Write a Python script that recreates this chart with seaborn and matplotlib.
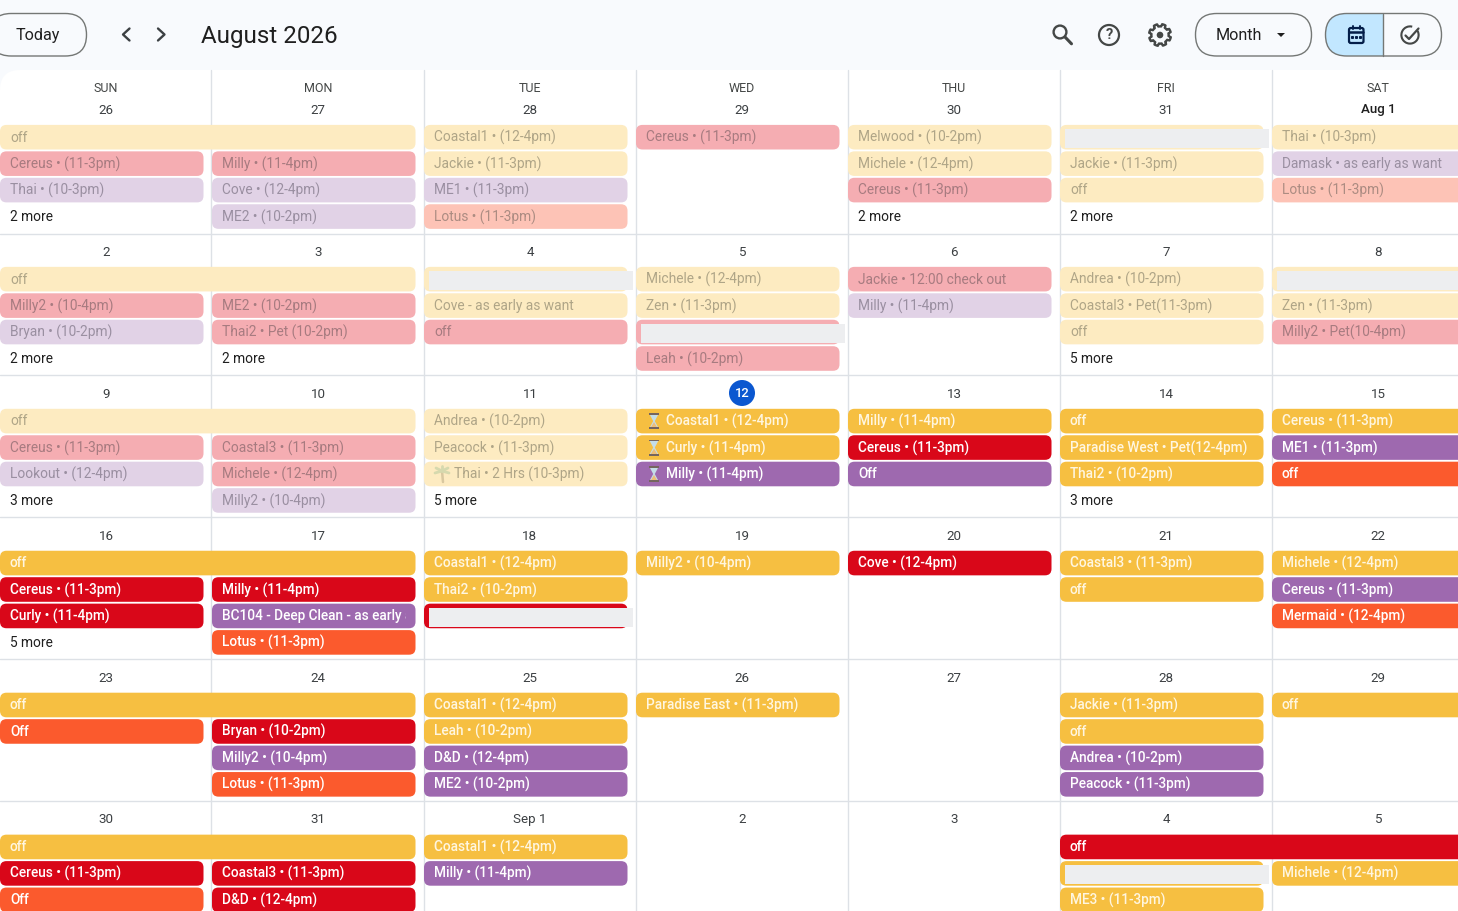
import numpy as np
import pandas as pd
import matplotlib
matplotlib.use("Agg")
import matplotlib.pyplot as plt
from matplotlib.patches import FancyBboxPatch, Rectangle, Circle, Polygon, Arc
import seaborn as sns

# ---------- data ----------
weekday_names = ["SUN", "MON", "TUE", "WED", "THU", "FRI", "SAT"]
day_labels = [
    ["26", "27", "28", "29", "30", "31", "Aug 1"],
    ["2", "3", "4", "5", "6", "7", "8"],
    ["9", "10", "11", "12", "13", "14", "15"],
    ["16", "17", "18", "19", "20", "21", "22"],
    ["23", "24", "25", "26", "27", "28", "29"],
    ["30", "31", "Sep 1", "2", "3", "4", "5"],
]
title_text = "August 2026"
today_cell = (2, 3)

# per week: day column, lane, calendar key, label. Two-day events are listed in wide_events.
w0_day = [0,0,0, 1,1,1, 2,2,2,2, 3, 4,4,4, 5,5,5, 6,6,6]
w0_lane = [0,1,2, 1,2,3, 0,1,2,3, 0, 0,1,2, 0,1,2, 0,1,2]
w0_cal = list("yrp" "rpp" "yypo" "r" "yyr" "yyy" "ypo")
w0_text = ["off", "Cereus • (11-3pm)", "Thai • (10-3pm)",
           "Milly • (11-4pm)", "Cove • (12-4pm)", "ME2 • (10-2pm)",
           "Coastal1 • (12-4pm)", "Jackie • (11-3pm)", "ME1 • (11-3pm)", "Lotus • (11-3pm)",
           "Cereus • (11-3pm)",
           "Melwood • (10-2pm)", "Michele • (12-4pm)", "Cereus • (11-3pm)",
           "", "Jackie • (11-3pm)", "off",
           "Thai • (10-3pm)", "Damask • as early as want", "Lotus • (11-3pm)"]

w1_day = [0,0,0, 1,1, 2,2,2, 3,3,3,3, 4,4, 5,5,5, 6,6,6]
w1_lane = [0,1,2, 1,2, 0,1,2, 0,1,2,3, 0,1, 0,1,2, 0,1,2]
w1_cal = list("yrp" "rr" "yyr" "yyrr" "rp" "yyy" "yyr")
w1_text = ["off", "Milly2 • (10-4pm)", "Bryan • (10-2pm)",
           "ME2 • (10-2pm)", "Thai2 • Pet (10-2pm)",
           "", "Cove - as early as want", "off",
           "Michele • (12-4pm)", "Zen • (11-3pm)", "", "Leah • (10-2pm)",
           "Jackie • 12:00 check out", "Milly • (11-4pm)",
           "Andrea • (10-2pm)", "Coastal3 • Pet(11-3pm)", "off",
           "", "Zen • (11-3pm)", "Milly2 • Pet(10-4pm)"]

w2_day = [0,0,0, 1,1,1, 2,2,2, 3,3,3, 4,4,4, 5,5,5, 6,6,6]
w2_lane = [0,1,2, 1,2,3, 0,1,2, 0,1,2, 0,1,2, 0,1,2, 0,1,2]
w2_cal = list("yrp" "rrp" "yyy" "yyp" "yrp" "yyy" "ypo")
w2_text = ["off", "Cereus • (11-3pm)", "Lookout • (12-4pm)",
           "Coastal3 • (11-3pm)", "Michele • (12-4pm)", "Milly2 • (10-4pm)",
           "Andrea • (10-2pm)", "Peacock • (11-3pm)", "Thai • 2 Hrs (10-3pm)",
           "Coastal1 • (12-4pm)", "Curly • (11-4pm)", "Milly • (11-4pm)",
           "Milly • (11-4pm)", "Cereus • (11-3pm)", "Off",
           "off", "Paradise West • Pet(12-4pm)", "Thai2 • (10-2pm)",
           "Cereus • (11-3pm)", "ME1 • (11-3pm)", "off"]

w3_day = [0,0,0, 1,1,1, 2,2,2, 3, 4, 5,5, 6,6,6]
w3_lane = [0,1,2, 1,2,3, 0,1,2, 0, 0, 0,1, 0,1,2]
w3_cal = list("yrr" "rpo" "yyr" "y" "r" "yy" "ypo")
w3_text = ["off", "Cereus • (11-3pm)", "Curly • (11-4pm)",
           "Milly • (11-4pm)", "BC104 - Deep Clean - as early as want", "Lotus • (11-3pm)",
           "Coastal1 • (12-4pm)", "Thai2 • (10-2pm)", "",
           "Milly2 • (10-4pm)", "Cove • (12-4pm)",
           "Coastal3 • (11-3pm)", "off",
           "Michele • (12-4pm)", "Cereus • (11-3pm)", "Mermaid • (12-4pm)"]

w4_day = [0,0, 1,1,1, 2,2,2,2, 3, 5,5,5,5, 6]
w4_lane = [0,1, 1,2,3, 0,1,2,3, 0, 0,1,2,3, 0]
w4_cal = list("yo" "rpo" "yypp" "y" "yypp" "y")
w4_text = ["off", "Off", "Bryan • (10-2pm)", "Milly2 • (10-4pm)", "Lotus • (11-3pm)",
           "Coastal1 • (12-4pm)", "Leah • (10-2pm)", "D&D • (12-4pm)", "ME2 • (10-2pm)",
           "Paradise East • (11-3pm)",
           "Jackie • (11-3pm)", "off", "Andrea • (10-2pm)", "Peacock • (11-3pm)", "off"]

w5_day = [0,0,0, 1,1, 2,2, 5,5,5, 6]
w5_lane = [0,1,2, 1,2, 0,1, 0,1,2, 1]
w5_cal = list("yro" "rr" "yp" "ryy" "y")
w5_text = ["off", "Cereus • (11-3pm)", "Off", "Coastal3 • (11-3pm)", "D&D • (12-4pm)",
           "Coastal1 • (12-4pm)", "Milly • (11-4pm)",
           "off", "", "ME3 • (11-3pm)", "Michele • (12-4pm)"]

wide_events = [(0, 0, 0), (1, 0, 0), (2, 0, 0), (3, 0, 0), (4, 0, 0), (5, 0, 0), (5, 5, 0)]  # week, day, lane

more_week = [0, 0, 0, 1, 1, 1, 2, 2, 2, 3]
more_day = [0, 4, 5, 0, 1, 5, 0, 2, 5, 0]
more_count = [2, 2, 2, 2, 2, 5, 3, 5, 3, 5]

weeks_day = [w0_day, w1_day, w2_day, w3_day, w4_day, w5_day]
weeks_lane = [w0_lane, w1_lane, w2_lane, w3_lane, w4_lane, w5_lane]
weeks_cal = [w0_cal, w1_cal, w2_cal, w3_cal, w4_cal, w5_cal]
weeks_text = [w0_text, w1_text, w2_text, w3_text, w4_text, w5_text]
frames = []
for i in range(6):
    frames.append(pd.DataFrame({"week": i, "day": weeks_day[i], "lane": weeks_lane[i],
                                "cal": weeks_cal[i], "text": weeks_text[i]}))
events = pd.concat(frames, ignore_index=True)

# ---------- styling ----------
full_bg = {"y": "#F6BF41", "r": "#D90719", "p": "#9E69AF", "o": "#FB5A2D"}
full_fg = {"y": "#FFF6E0", "r": "#FFFFFF", "p": "#FFFFFF", "o": "#FFFFFF"}
past_bg = {"y": "#FDEBC1", "r": "#F5ADB2", "p": "#E1D2E6", "o": "#FDC3B6"}
past_fg = {"y": "#AFA587", "r": "#A77B80", "p": "#9A8FA1", "o": "#AC8C82"}

COL_W, ROW_H = 212.0, 141.95
LANE0, LANE_H, EV_H = 137.2, 26.45, 24.6

sns.set_theme(style="white")
plt.rcParams["font.family"] = ["Roboto", "DejaVu Sans"]

fig = plt.figure(figsize=(14.58, 9.11), dpi=100, facecolor="#F8FAFD")
ax = fig.add_axes([0, 0, 1, 1])
ax.set_facecolor("none")

# grid lines through seaborn
grid_rows = []
for c in range(1, 7):
    x = c * COL_W - (0.6 if c == 1 else 0.2)
    grid_rows += [(f"v{c}", x, 70), (f"v{c}", x, 911)]
for r in range(1, 6):
    y = 233.5 + (r - 1) * ROW_H
    grid_rows += [(f"h{r}", 0, y), (f"h{r}", 1458, y)]
grid = pd.DataFrame(grid_rows, columns=["id", "x", "y"])
sns.lineplot(data=grid, x="x", y="y", units="id", estimator=None, color="#DDE1E6",
             lw=1.0, sort=False, legend=False, ax=ax, zorder=1)
ax.set_xlim(0, 1458)
ax.set_ylim(911, 0)
ax.axis("off")

# white sheet
ax.add_patch(FancyBboxPatch((0, 70), 1500, 900, boxstyle="round,pad=0,rounding_size=20",
                            fc="white", ec="none", zorder=0))


def is_past(w, d):
    return w < today_cell[0] or (w == today_cell[0] and d < today_cell[1])


def lane_y(w, lane):
    return LANE0 + w * ROW_H + lane * LANE_H


def hourglass(cx, cy):
    ax.add_patch(Polygon([(cx-4.5, cy-7), (cx+4.5, cy-7), (cx+0.8, cy), (cx+4.5, cy+7), (cx-4.5, cy+7), (cx-0.8, cy)],
                         fc="#C4DDE8", ec="none", zorder=5))
    ax.add_patch(Polygon([(cx-3.6, cy+7), (cx+3.6, cy+7), (cx, cy+1)], fc="#EDBE78", ec="none", zorder=5))
    ax.add_patch(Rectangle((cx-5, cy-8), 10, 1.8, fc="#75655F", ec="none", zorder=6))
    ax.add_patch(Rectangle((cx-5, cy+6.2), 10, 1.8, fc="#75655F", ec="none", zorder=6))


def palm(cx, cy):
    leaf = "#D6D9AE"
    ax.plot([cx, cx+1], [cy-3, cy+8], color="#D9C8A0", lw=1.8, zorder=5)
    for dx, dy in [(-7, 2), (-6, -3), (0, -5), (6, -3), (7, 2)]:
        ax.plot([cx, cx+dx], [cy-3, cy-3+dy], color=leaf, lw=2.0, zorder=5)


for row in events.itertuples():
    past = is_past(row.week, row.day)
    x0 = row.day * COL_W
    yc = lane_y(row.week, row.lane)
    span = 2 if (row.week, row.day, row.lane) in wide_events else 1
    w = COL_W * span - 8.5
    if row.day == 6 or row.day + span > 6:
        w = 1500 - x0
    bg = (past_bg if past else full_bg)[row.cal]
    fg = (past_fg if past else full_fg)[row.cal]
    box = FancyBboxPatch((x0, yc - EV_H/2), w, EV_H,
                         boxstyle="round,pad=0,rounding_size=6.5", fc=bg, ec="none", zorder=3)
    ax.add_patch(box)
    tx = x0 + 10
    if row.week == 2 and row.day == 2 and row.lane == 2:
        palm(x0 + 18, yc)
        tx = x0 + 30
    if row.week == 2 and row.day == 3:
        hourglass(x0 + 18, yc)
        tx = x0 + 30
    if row.text:
        t = ax.text(tx, yc + 0.4, row.text, color=fg, fontsize=9.95 if past else 9.8, va="center", ha="left",
                    zorder=6, fontweight="medium" if not past else "normal")
        t.set_clip_on(True)
        t.set_clip_path(Rectangle((x0, yc - 15), w - 9 if w < 300 else w, 30, transform=ax.transData))
    else:
        ax.add_patch(Rectangle((x0 + 5.5, yc - 8.2), 203.5, 19, fc="#EDEEF0", ec="none", zorder=7))

for w, d, n in zip(more_week, more_day, more_count):
    ax.text(d * COL_W + 10, lane_y(w, 3) + 0.4, f"{n} more", color="#1F1F1F", fontsize=9.9,
            va="center", ha="left", fontweight="normal", zorder=6)

# headers and day numbers
col_centres = [106, 318, 530, 742, 954, 1166, 1378]
for cx, name in zip(col_centres, weekday_names):
    ax.text(cx, 88, name, color="#444746", fontsize=9.0, ha="center", va="center", fontweight="normal")
day_y = [110, 252, 394, 536, 678, 819.2]
for w, labs in enumerate(day_labels):
    for d, lab in enumerate(labs):
        if (w, d) == today_cell:
            ax.add_patch(Circle((col_centres[d], day_y[w] - 1), 13, fc="#0B57D0", ec="none", zorder=4))
            ax.text(col_centres[d], day_y[w] - 0.7, lab, color="white", fontsize=9.4, ha="center", va="center",
                    fontweight="medium", zorder=5)
        else:
            bold = lab.startswith("Aug")
            ax.text(col_centres[d], day_y[w], lab, color="#1F1F1F" if bold else "#3C4043", fontsize=9.6,
                    ha="center", va="center", fontweight="medium" if bold else "normal")

# ---------- top bar ----------
OUT = "#747775"


def pill(x0, x1, fc="none", z=2):
    p = FancyBboxPatch((x0, 13.5), x1 - x0, 42.5, boxstyle="round,pad=0,rounding_size=21.2",
                       fc=fc, ec=OUT, lw=1.0, zorder=z)
    ax.add_patch(p)
    return p


pill(-10, 86.5)
ax.text(37.5, 35.6, "Today", fontsize=11.6, color="#1F1F1F", ha="center", va="center", fontweight="normal")
ax.plot([129.5, 123, 129.5], [28.5, 34.5, 40.5], color="#3C4043", lw=1.7, solid_capstyle="round")
ax.plot([158, 164.5, 158], [28.5, 34.5, 40.5], color="#3C4043", lw=1.7, solid_capstyle="round")
ax.text(201.5, 36, title_text, fontsize=17.4, color="#1F1F1F", ha="left", va="center")

icon = "#444746"
ax.add_patch(Circle((1060, 32), 6.4, fc="none", ec=icon, lw=1.7))
ax.plot([1065, 1071.5], [37, 43.8], color=icon, lw=2.2, solid_capstyle="round")
ax.add_patch(Circle((1109, 35), 10, fc="none", ec=icon, lw=1.6))
ax.text(1109, 35.2, "?", fontsize=10.5, color=icon, ha="center", va="center", fontweight="bold")

# gear outline
ang = np.linspace(0, 2*np.pi, 97)[:-1] + np.pi/8
rad = np.where(((ang - np.pi/8) / (2*np.pi/8) + 0.3) % 1 < 0.5, 11.0, 8.6)
ax.add_patch(Polygon(np.c_[1160 + rad*np.cos(ang), 35 + rad*np.sin(ang)], closed=True,
                     fc="none", ec=icon, lw=1.7, joinstyle="round"))
ax.add_patch(Circle((1160, 35), 3.3, fc=icon, ec="none"))

pill(1195.5, 1311.5)
ax.text(1216, 35.3, "Month", fontsize=11.6, color="#1F1F1F", ha="left", va="center", fontweight="normal")
ax.add_patch(Polygon([(1277, 33), (1285, 33), (1281, 37)], fc="#1F1F1F", ec="none"))

seg = pill(1325.5, 1441.5)
blue = Rectangle((1325, 13), 58, 43.5, fc="#C2E7FF", ec="none", zorder=1.5)
ax.add_patch(blue)
blue.set_clip_path(seg)
ax.plot([1383.5, 1383.5], [13.5, 56], color=OUT, lw=1.0, zorder=3)

navy = "#041E49"
ax.add_patch(FancyBboxPatch((1349, 28), 14.5, 15, boxstyle="round,pad=0,rounding_size=1.8",
                            fc="none", ec=navy, lw=1.6, zorder=4))
ax.plot([1349, 1363.5], [31.6, 31.6], color=navy, lw=1.8, zorder=4)
ax.plot([1352.6, 1352.6], [26, 29], color=navy, lw=1.4, zorder=4)
ax.plot([1360, 1360], [26, 29], color=navy, lw=1.4, zorder=4)
ax.plot([1352.5, 1356.3, 1360], [36.5, 36.5, 36.5], ls="none", marker="s", ms=1.2, color=navy, zorder=4)

ax.add_patch(Arc((1410, 35), 17.2, 17.2, theta1=-30, theta2=285, ec=icon, lw=1.5))
ax.plot([1405.5, 1409, 1418.5], [35.5, 39, 28.5], color=icon, lw=1.6, solid_capstyle="round", zorder=4)

fig.savefig("out.png", dpi=100, facecolor=fig.get_facecolor())
